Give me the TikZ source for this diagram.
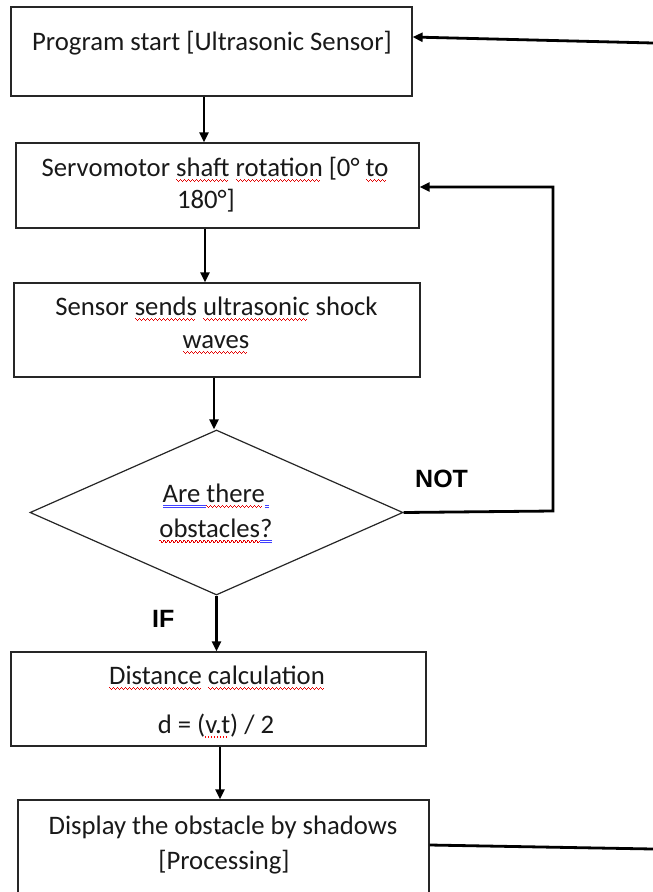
\documentclass[tikz,border=0pt]{standalone}
\usepackage{fontspec}
\setmainfont{Carlito}
\newfontfamily\labfont{Liberation Sans}
\usetikzlibrary{arrows.meta,shapes.geometric}
\newbox\ulbox
\newcommand\ulmark[3]{\setbox\ulbox\hbox{#3}\rlap{{\color{#1}\hbox to\wd\ulbox{\leaders\hbox{#2}\hfil}}}\box\ulbox}
\newcommand\rwave{\ulmark{red!90!black}{\rule[-4.2pt]{1.1pt}{1.2pt}\rule[-5.2pt]{0.9pt}{1.2pt}\rule[-6.2pt]{1.1pt}{1.2pt}\rule[-5.2pt]{0.9pt}{1.2pt}}}
\newcommand\bdbl{\ulmark{blue!75}{\rlap{\rule[-3.5pt]{1pt}{1pt}}\rule[-6pt]{1pt}{1pt}}}
\newcommand\rdots{\ulmark{red}{\rule[-4.5pt]{1.2pt}{1.2pt}\hspace{1.8pt}}}
\tikzset{
  box/.style={draw=black!85, line width=1.2pt, rectangle, inner sep=0pt},
  dia/.style={draw=black!85, line width=1.2pt, diamond, inner sep=0pt},
  txt/.style={anchor=base, inner sep=0pt, font=\fontsize{26.7}{30}\selectfont, text=black!90},
  lab/.style={anchor=base west, inner sep=0pt, font=\labfont\bfseries\fontsize{25}{30}\selectfont},
  arr/.style={line width=2.8pt, -{Triangle[length=10pt,width=9pt]}},
  ln/.style={line width=2.8pt}
}
\begin{document}
\begin{tikzpicture}[x=1pt,y=-1pt]
\useasboundingbox (0,0) rectangle (653,892);
\fill[white] (0,0) rectangle (653,892);
\clip (0,0) rectangle (653,892);
% boxes
\node[box, minimum width=401pt, minimum height=89pt] (b1) at (211.5,51.5) {};
\node[box, minimum width=403pt, minimum height=85pt] (b2) at (217.5,185.5) {};
\node[box, minimum width=406pt, minimum height=94pt] (b3) at (217,330) {};
\node[dia, minimum width=373pt, minimum height=165pt] (d) at (216.5,512.5) {};
\node[box, minimum width=415pt, minimum height=94pt] (b4) at (218.5,699) {};
\node[box, minimum width=411pt, minimum height=100pt] (b5) at (223.5,850) {};
% texts
\node[txt] (t1) at (212,50) {Program start [Ultrasonic Sensor]};
\node[txt] (t2a) at (215,176) {Servomotor \rwave{shaft} \rwave{rotation} [0° \rwave{to}};
\node[txt] (t2b) at (206,208) {180°]};
\node[txt] (t3a) at (216.5,315) {Sensor \rwave{sends} \rwave{ultrasonic} shock};
\node[txt] (t3b) at (216,348) {\rwave{waves}};
\node[txt] (t4a) at (216,502) {\bdbl{Are }\rwave{there}\bdbl{\,}};
\node[txt] (t4b) at (216,537) {\rwave{obstacles}\bdbl{?}};
\node[txt] (t5a) at (217,684) {\rwave{Distance} \rwave{calculation}};
\node[txt] (t5b) at (216,733) {d = (\rdots{v.t}) / 2};
\node[txt] (t6a) at (223,834) {Display the obstacle by shadows};
\node[txt] (t6b) at (224,869) {[Processing]};
\node[lab] (nt) at (415,487) {NOT};
\node[lab] (iff) at (152,627) {IF};
% connectors
\draw[arr] ([xshift=-7.5pt]b1.south) -- ([xshift=-13.5pt]b2.north);
\draw[arr] ([xshift=-12.5pt]b2.south) -- ([xshift=-12pt]b3.north);
\draw[arr] ([xshift=-3pt]b3.south) -- ([xshift=-3pt]b3.south |- d.north);
\draw[arr] (d.south) -- (d.south |- b4.north);
\draw[arr] ([xshift=1.5pt]b4.south) -- ([xshift=1.5pt]b4.south |- b5.north);
\coordinate (c1) at (553,511);
\coordinate (c2) at (553,187);
\draw[arr] (d.east) -- (c1) -- (c2) -- (c2 -| b2.east);
\coordinate (in1) at (653,43);
\draw[arr] (in1) -- ([yshift=14.5pt]b1.east);
\coordinate (out1) at (653,849);
\draw[ln] ([yshift=5pt]b5.east) -- (out1);
\end{tikzpicture}
\end{document}
